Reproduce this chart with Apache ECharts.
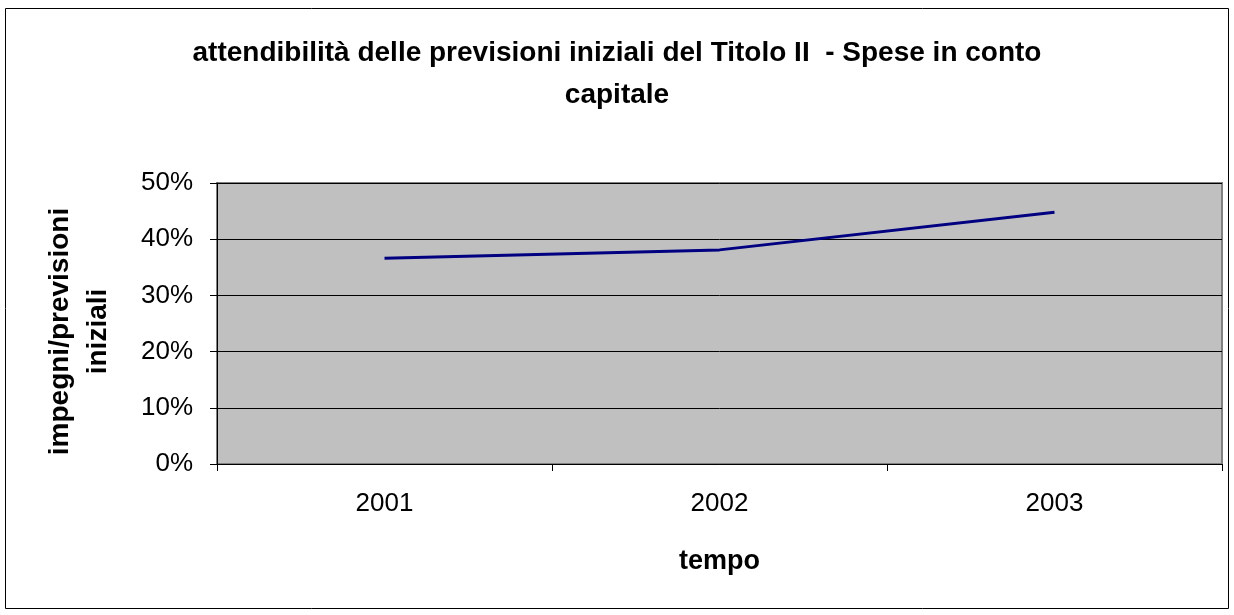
<!DOCTYPE html>
<html>
<head>
<meta charset="utf-8">
<script src="https://cdn.jsdelivr.net/npm/echarts@6/dist/echarts.min.js"></script>
<style>
  html, body { margin: 0; padding: 0; background: #fff; }
  #chart { width: 1234px; height: 615px; }
</style>
</head>
<body>
<div id="chart"></div>
<script>
const years = ['2001', '2002', '2003']
const ratio = [0.366, 0.381, 0.448]

const chart = echarts.init(document.getElementById('chart'))
chart.setOption({
  animation: false,
  textStyle: { fontFamily: 'Liberation Sans, Arial, sans-serif' },
  title: {
    text: 'attendibilità delle previsioni iniziali del Titolo II  - Spese in conto\ncapitale',
    left: 'center',
    top: 27,
    textStyle: { fontSize: 28, fontWeight: 'bold', color: '#000', lineHeight: 42 }
  },
  graphic: [
    {
      type: 'rect',
      shape: { x: 5.5, y: 8.5, width: 1223, height: 600 },
      style: { fill: 'none', stroke: '#000', lineWidth: 1 },
      silent: true
    }
  ],
  grid: {
    left: 217, right: 12, top: 183, bottom: 151,
    show: true,
    backgroundColor: '#c0c0c0',
    borderColor: '#808080',
    borderWidth: 2
  },
  xAxis: {
    type: 'category',
    data: years,
    boundaryGap: true,
    name: 'tempo',
    nameLocation: 'middle',
    nameGap: 84,
    nameTextStyle: { fontSize: 27, fontWeight: 'bold', color: '#000' },
    axisLine: { lineStyle: { color: '#000', width: 1 } },
    axisTick: { show: true, length: 7, lineStyle: { color: '#000' } },
    axisLabel: { fontSize: 26, color: '#000', margin: 27 },
    splitLine: { show: false }
  },
  yAxis: {
    type: 'value',
    min: 0,
    max: 0.5,
    interval: 0.1,
    name: 'impegni/previsioni\niniziali',
    nameLocation: 'middle',
    nameGap: 100,
    nameRotate: 90,
    nameTextStyle: { fontSize: 28, fontWeight: 'bold', color: '#000', lineHeight: 38, padding: [0, 16, 0, 0] },
    axisLine: { show: true, lineStyle: { color: '#000', width: 1 } },
    axisTick: { show: true, length: 7, lineStyle: { color: '#000' } },
    axisLabel: {
      fontSize: 26, color: '#000', margin: 24,
      formatter: v => Math.round(v * 100) + '%'
    },
    splitLine: { show: true, lineStyle: { color: '#000', width: 1 } }
  },
  series: [
    {
      type: 'line',
      data: ratio,
      symbol: 'none',
      lineStyle: { color: '#000080', width: 3 }
    }
  ]
})
</script>
</body>
</html>
